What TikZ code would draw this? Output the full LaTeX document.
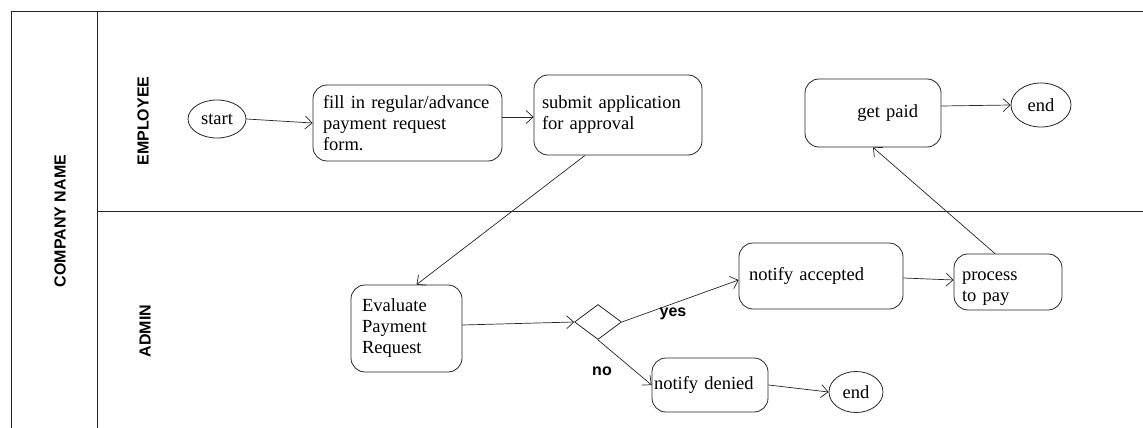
\documentclass[tikz,border=0pt]{standalone}
\usepackage{fontspec}
\setmainfont{Liberation Serif}
\setsansfont{Liberation Sans}
\usetikzlibrary{shapes.geometric,arrows.meta}

\tikzset{
  lane/.style={line width=0.9pt, draw=black!85},
  lanelabel/.style={font=\sffamily\bfseries\fontsize{16}{18}\selectfont, rotate=90},
  guard/.style={font=\sffamily\bfseries\fontsize{16}{18}\selectfont},
  act/.style={draw=black!85, line width=0.8pt, rounded corners=14pt,
    font=\fontsize{18.5}{21}\selectfont, inner ysep=0pt},
  term/.style={draw=black!85, line width=0.8pt, ellipse, inner sep=0pt,
    font=\fontsize{18.5}{21}\selectfont},
  choice/.style={draw=black!85, line width=0.8pt, diamond, inner sep=0pt},
  flow/.style={draw=black!85, line width=0.7pt,
    -{Straight Barb[length=7pt,width=13pt]}},
}

\begin{document}
\begin{tikzpicture}[x=1pt, y=-1pt]
  \useasboundingbox (0,0) rectangle (1143,428);

  % swimlane frame
  \draw[lane] (11,428) -- (11,11) -- (1143,11);
  \draw[lane] (97,11) -- (97,428);
  \draw[lane] (97,211) -- (1143,211);

  \node[lanelabel] (company) at (60,221) {COMPANY NAME};
  \node[lanelabel] (employee) at (143,121) {EMPLOYEE};
  \node[lanelabel] (admin) at (145,331) {ADMIN};

  % employee lane
  \node[term, minimum width=58pt, minimum height=38pt] (start) at (217,119) {start};
  \node[act, minimum height=76pt, text width=169pt, inner xsep=10pt, align=left]
    (fill) at (407.5,123) {fill in regular/advance\\payment request\\form.};
  \node[act, minimum height=80pt, text width=152pt, inner xsep=8pt, align=left]
    (submit) at (618,115) {submit application\\for approval};
  \node[act, minimum height=68pt, text width=90pt, inner xsep=23pt, align=right]
    (paid) at (873,113) {get paid};
  \node[term, minimum width=60pt, minimum height=44pt] (end1) at (1041,105) {end};

  % admin lane
  \node[act, minimum height=87pt, text width=89pt, inner xsep=11pt, align=left]
    (eval) at (406.5,328.5) {Evaluate\\Payment\\Request};
  \node[choice, minimum width=47pt, minimum height=35pt] (dec) at (598,322) {};
  \node[act, minimum height=66pt, text width=144pt, inner xsep=10pt, align=left]
    (acc) at (821,276) {notify accepted};
  \node[act, minimum height=56pt, text width=92pt, inner xsep=8pt, align=left]
    (proc) at (1008,282) {\rule{0pt}{22pt}process\\to pay};
  \node[act, minimum height=54pt, text width=112pt, inner xsep=2pt, align=left]
    (den) at (710,385) {notify denied};
  \node[term, minimum width=54pt, minimum height=41pt] (end2) at (856,392) {end};

  \node[guard] (yes) at (673,314) {yes};
  \node[guard] (no) at (602,371) {no};

  % control flow
  \draw[flow] (start.east) -- (fill.west);
  \draw[flow] ([yshift=6pt]fill.east) -- ([yshift=-2pt]submit.west);
  \draw[flow] ([xshift=-33pt]submit.south) -- ([xshift=10pt]eval.north);
  \draw[flow] ([yshift=3.5pt]eval.east) -- (dec.west);
  \draw[flow] (dec.east) -- ([yshift=-4pt]acc.west);
  \draw[flow] (dec.south) -- (den.west);
  \draw[flow] ([yshift=-2pt]acc.east) -- ([yshift=2pt]proc.west);
  \draw[flow] (den.east) -- (end2.west);
  \draw[flow] ([xshift=-13pt]proc.north) -- (paid.south);
  \draw[flow] ([yshift=7pt]paid.east) -- (end1.west);
\end{tikzpicture}
\end{document}
